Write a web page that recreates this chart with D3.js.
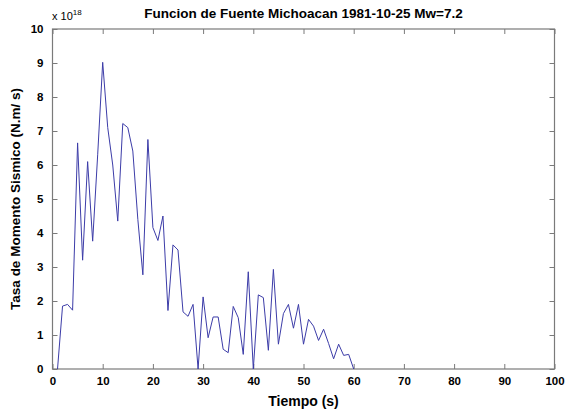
<!DOCTYPE html>
<html><head><meta charset="utf-8">
<script src="https://cdn.jsdelivr.net/npm/d3@7"></script>
<style>body{margin:0;background:#fff}svg{display:block}text{font-family:"Liberation Sans",Arial,sans-serif}</style>
</head><body>
<script>
const times = d3.range(1, 61);
const values = [0,1.85,1.9,1.73,6.65,3.2,6.1,3.76,6.3,9.02,7.1,6.0,4.35,7.22,7.1,6.41,4.4,2.77,6.75,4.16,3.78,4.5,1.72,3.65,3.5,1.68,1.55,1.9,0,2.12,0.92,1.53,1.53,0.58,0.48,1.84,1.51,0.43,2.86,0,2.18,2.1,0.55,2.93,0.73,1.63,1.9,1.2,1.9,0.73,1.46,1.26,0.84,1.17,0.75,0.3,0.73,0.4,0.43,0];
const xTicks = d3.range(0, 101, 10);
const yTicks = d3.range(0, 11, 1);
const title = "Funcion de Fuente Michoacan 1981-10-25 Mw=7.2";
const xLabel = "Tiempo (s)";
const yLabel = "Tasa de Momento Sismico (N.m/ s)";

const W = 566, H = 414;
const m = {l: 52.5, r: 554.5, t: 29, b: 369};
const svg = d3.select("body").append("svg").attr("width", W).attr("height", H);
const x = d3.scaleLinear().domain([0, 100]).range([m.l, m.r]);
const y = d3.scaleLinear().domain([0, 10]).range([m.b, m.t]);
const axisCol = "#7a7a7a";

function styleAxis(g, showText) {
  g.select(".domain").remove();
  g.selectAll(".tick line").attr("stroke", axisCol).attr("stroke-width", 1);
  g.selectAll(".tick text").attr("fill", "#000").attr("font-weight", "bold").attr("font-size", "11.5px")
    .attr("font-family", '"Liberation Sans",Arial,sans-serif');
  if (!showText) g.selectAll(".tick text").remove();
}
svg.append("g").attr("transform", `translate(0,${m.b})`)
  .call(d3.axisBottom(x).tickValues(xTicks).tickSize(-5).tickPadding(8).tickFormat(d3.format("d")))
  .call(g => styleAxis(g, true));
svg.append("g").attr("transform", `translate(0,${m.t})`)
  .call(d3.axisTop(x).tickValues(xTicks).tickSize(-5).tickFormat(""))
  .call(g => styleAxis(g, false));
svg.append("g").attr("transform", `translate(${m.l},0)`)
  .call(d3.axisLeft(y).tickValues(yTicks).tickSize(-5).tickPadding(9).tickFormat(d3.format("d")))
  .call(g => styleAxis(g, true));
svg.append("g").attr("transform", `translate(${m.r},0)`)
  .call(d3.axisRight(y).tickValues(yTicks).tickSize(-5).tickFormat(""))
  .call(g => styleAxis(g, false));

svg.append("rect").attr("x", m.l).attr("y", m.t).attr("width", m.r - m.l).attr("height", m.b - m.t)
  .attr("fill", "none").attr("stroke", axisCol).attr("stroke-width", 1.2);

const line = d3.line().x((d, i) => x(times[i])).y(d => y(d));
svg.append("path").datum(values).attr("d", line).attr("fill", "none")
  .attr("stroke", "#3c3ca8").attr("stroke-width", 1);

svg.append("text").attr("x", (m.l + m.r) / 2).attr("y", 18).attr("text-anchor", "middle")
  .attr("font-weight", "bold").attr("font-size", "13.5px").text(title);
svg.append("text").attr("x", (m.l + m.r) / 2).attr("y", 406).attr("text-anchor", "middle")
  .attr("font-weight", "bold").attr("font-size", "14px").text(xLabel);
svg.append("text").attr("transform", `translate(20,${(m.t + m.b) / 2}) rotate(-90)`).attr("text-anchor", "middle")
  .attr("font-weight", "bold").attr("font-size", "13.5px").text(yLabel);
const ex = svg.append("text").attr("x", 52).attr("y", 20).attr("font-size", "11px");
ex.append("tspan").text("x 10");
ex.append("tspan").attr("dy", -5).attr("font-size", "8px").text("18");
</script>
</body></html>
